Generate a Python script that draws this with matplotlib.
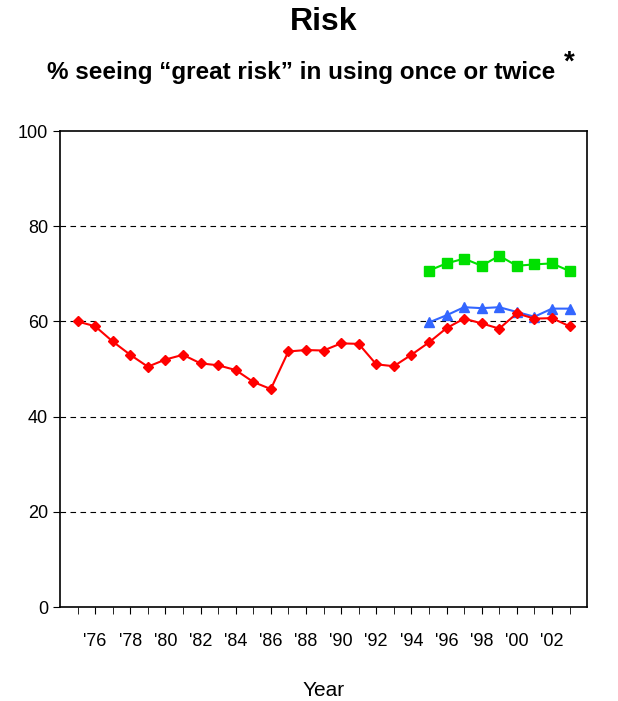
import matplotlib
matplotlib.use("Agg")
import matplotlib.pyplot as plt

years_red = list(range(1975, 2004))
red = [60, 59, 55.8, 53, 50.5, 52, 53, 51.2, 50.8, 49.8, 47.3, 45.8, 53.7, 54, 53.9,
       55.4, 55.3, 51, 50.6, 53, 55.6, 58.6, 60.6, 59.6, 58.5, 61.7, 60.6, 60.7, 59]
years_new = list(range(1995, 2004))
green = [70.7, 72.2, 73.2, 71.7, 73.8, 71.7, 72, 72.2, 70.6]
blue = [59.8, 61.3, 63, 62.8, 63, 62, 61, 62.7, 62.7]
tick_years = list(range(1976, 2003, 2))
tick_labels = ["'%02d" % (y % 100) for y in tick_years]

plt.rcParams["font.family"] = ["Liberation Sans", "DejaVu Sans"]
fig = plt.figure(figsize=(6.18, 7.01), dpi=100)
ax = fig.add_axes([0.097, 0.134, 0.853, 0.679])

ax.plot(years_new, green, color="#00e000", marker="s", ms=7, lw=1.5)
ax.plot(years_new, blue, color="#3366ff", marker="^", ms=7, lw=1.5)
ax.plot(years_red, red, color="#ff0000", marker="D", ms=5.5, lw=1.5)

ax.set_xlim(1974, 2004)
ax.set_ylim(0, 100)
ax.set_yticks(range(0, 101, 20))
ax.tick_params(axis="y", labelsize=13, direction="out", length=5)
ax.set_xticks(tick_years)
ax.set_xticklabels(tick_labels, fontsize=13)
ax.set_xticks(range(1975, 2004), minor=True)
ax.tick_params(axis="x", which="both", direction="out", length=5, pad=14)
for y in (20, 40, 60, 80):
    ax.axhline(y, color="black", lw=0.8, ls=(0, (5, 4)), zorder=0)
for s in ax.spines.values():
    s.set_linewidth(1.2)
ax.set_xlabel("Year", fontsize=15, labelpad=22)

fig.text(0.524, 0.968, "Risk", ha="center", va="center", fontsize=23, fontweight="bold")
fig.text(0.487, 0.897, "% seeing \u201cgreat risk\u201d in using once or twice",
         ha="center", va="center", fontsize=17.5, fontweight="bold")
fig.text(0.912, 0.91, "*", ha="left", va="center", fontsize=20, fontweight="bold")

fig.savefig("out.png", dpi=100)
